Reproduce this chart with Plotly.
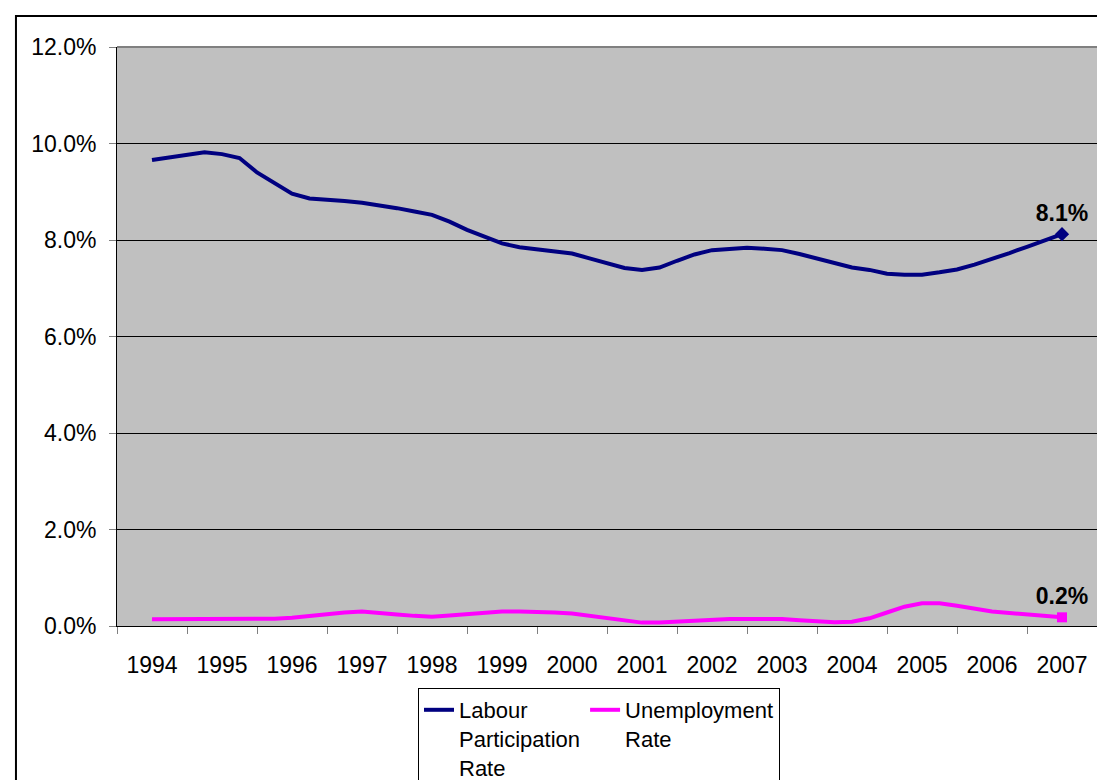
import plotly.graph_objects as go

# quarterly observations, 1994 Q1 .. 2007 Q1
quarters = [1994 + 0.25 * i for i in range(53)]

labour_participation = [
    9.66, 9.72, 9.77, 9.82, 9.78, 9.70, 9.40, 9.18, 8.96, 8.86,
    8.84, 8.81, 8.77, 8.72, 8.66, 8.59, 8.52, 8.38, 8.21, 8.07,
    7.93, 7.85, 7.80, 7.77, 7.72, 7.62, 7.52, 7.42, 7.38, 7.43,
    7.57, 7.70, 7.79, 7.82, 7.84, 7.82, 7.79, 7.71, 7.61, 7.51,
    7.43, 7.38, 7.30, 7.28, 7.28, 7.33, 7.39, 7.49, 7.60, 7.73,
    7.86, 7.99, 8.12,
]

unemployment = [
    0.14, 0.14, 0.14, 0.14, 0.14, 0.14, 0.14, 0.15, 0.17, 0.21,
    0.25, 0.28, 0.30, 0.28, 0.24, 0.21, 0.19, 0.22, 0.25, 0.28,
    0.30, 0.30, 0.30, 0.28, 0.26, 0.21, 0.16, 0.11, 0.07, 0.07,
    0.09, 0.12, 0.145, 0.145, 0.145, 0.145, 0.145, 0.12, 0.10, 0.08,
    0.09, 0.16, 0.28, 0.40, 0.47, 0.47, 0.42, 0.36, 0.30, 0.27,
    0.24, 0.21, 0.18,
]

years = list(range(1994, 2008))
y_ticks = [0, 2, 4, 6, 8, 10, 12]

NAVY = '#000080'
MAGENTA = '#FF00FF'
FONT = 'Arial, Liberation Sans, sans-serif'

W, H = 1097, 780

fig = go.Figure()

fig.add_trace(go.Scatter(
    x=quarters, y=labour_participation, mode='lines',
    name='Labour<br>Participation<br>Rate',
    line=dict(color=NAVY, width=4),
))
fig.add_trace(go.Scatter(
    x=quarters, y=unemployment, mode='lines',
    name='Unemployment<br>Rate',
    line=dict(color=MAGENTA, width=4),
))

# end point markers with labels
fig.add_trace(go.Scatter(
    x=[quarters[-1]], y=[labour_participation[-1]], mode='markers+text',
    marker=dict(symbol='diamond', size=11, color=NAVY),
    text=[f'<b>{labour_participation[-1]:.1f}%</b>'], textposition='top center',
    textfont=dict(size=23, color='black', family=FONT),
    showlegend=False, cliponaxis=False,
))
fig.add_trace(go.Scatter(
    x=[quarters[-1]], y=[unemployment[-1]], mode='markers+text',
    marker=dict(symbol='square', size=10, color=MAGENTA),
    text=[f'<b>{unemployment[-1]:.1f}%</b>'], textposition='top center',
    textfont=dict(size=23, color='black', family=FONT),
    showlegend=False, cliponaxis=False,
))

# outer chart border (right and bottom sides fall outside the page)
fig.add_shape(type='rect', xref='paper', yref='paper',
              x0=-0.1031, x1=1.5, y0=-0.8, y1=1.0535,
              line=dict(color='black', width=2), layer='below')

fig.update_layout(
    width=W, height=H,
    paper_bgcolor='white',
    plot_bgcolor='#C0C0C0',
    margin=dict(l=117, r=0, t=47, b=154),
    font=dict(family=FONT, size=23, color='black'),
    showlegend=True,
    legend=dict(
        orientation='h',
        xref='container', yref='container',
        x=418 / W, xanchor='left', y=1 - 688 / H, yanchor='top',
        bordercolor='black', borderwidth=1,
        bgcolor='white',
        font=dict(size=22, family=FONT),
        itemwidth=30,
        valign='top',
    ),
    xaxis=dict(
        range=[1993.5, 2007.5],
        tickvals=years,
        ticktext=[str(y) for y in years],
        ticks='',
        showgrid=False,
        zeroline=False,
        showline=True, linecolor='black', linewidth=1,
        ticklabelstandoff=18,
        minor=dict(ticks='outside', tick0=1993.5, dtick=1, ticklen=7,
                   tickcolor='#808080', showgrid=False),
    ),
    yaxis=dict(
        range=[0, 12],
        tickvals=y_ticks,
        ticktext=[f'{v:.1f}%' for v in y_ticks],
        ticks='outside', ticklen=7, tickcolor='#808080',
        showgrid=True, gridcolor='black', gridwidth=1,
        zeroline=False,
        showline=True, linecolor='black', linewidth=1,
        ticklabelstandoff=8,
    ),
)

# grey plot-area border on top
fig.add_shape(type='line', xref='paper', yref='paper', x0=0, x1=1, y0=1, y1=1,
              line=dict(color='#808080', width=2))

# drop the default body margin so the 1097x780 figure fills the window
fig.write_html('out.html', config={'displayModeBar': False}, post_script=(
    "document.body.style.margin='0';"
    "document.body.style.overflow='hidden';"
))
